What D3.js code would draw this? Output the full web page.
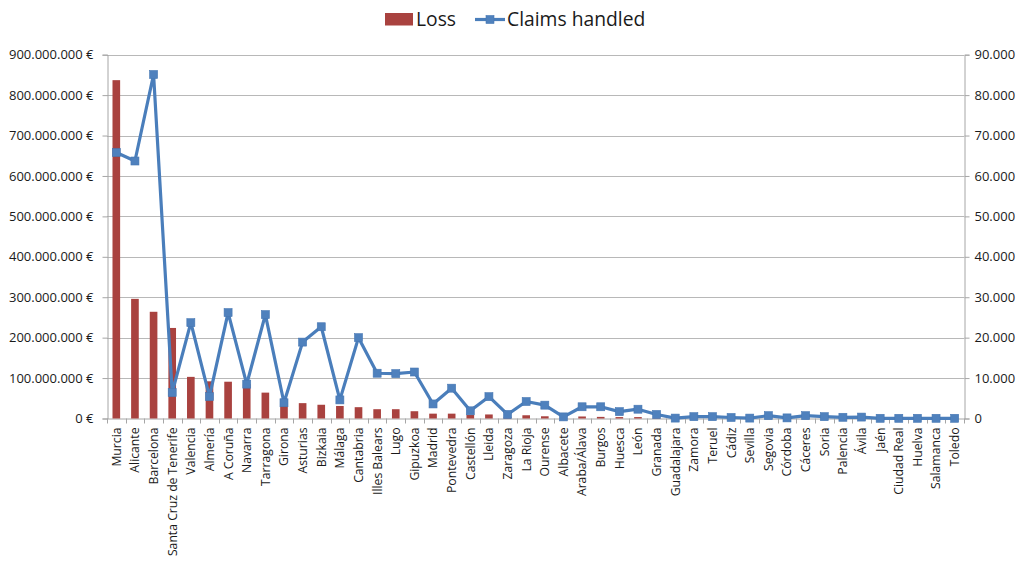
<!DOCTYPE html>
<html>
<head>
<meta charset="utf-8">
<script src="https://cdn.jsdelivr.net/npm/d3@7"></script>
<style>
  html, body { margin: 0; padding: 0; background: #ffffff; }
  svg { display: block; font-family: "Open Sans", "DejaVu Sans", sans-serif; }
</style>
</head>
<body>
<svg id="chart" width="1024" height="561"></svg>
<script>
// Provinces, ordered by total loss
const categories = [
  "Murcia", "Alicante", "Barcelona", "Santa Cruz de Tenerife", "Valencia", "Almería",
  "A Coruña", "Navarra", "Tarragona", "Girona", "Asturias", "Bizkaia", "Málaga",
  "Cantabria", "Illes Balears", "Lugo", "Gipuzkoa", "Madrid", "Pontevedra", "Castellón",
  "Lleida", "Zaragoza", "La Rioja", "Ourense", "Albacete", "Araba/Álava", "Burgos",
  "Huesca", "León", "Granada", "Guadalajara", "Zamora", "Teruel", "Cádiz", "Sevilla",
  "Segovia", "Córdoba", "Cáceres", "Soria", "Palencia", "Ávila", "Jaén", "Ciudad Real",
  "Huelva", "Salamanca", "Toledo"
];

// Loss in euros (left axis)
const lossEUR = [
  837e6, 296e6, 264e6, 224e6, 103e6, 92e6,
  91e6, 85e6, 64e6, 42e6, 38e6, 34e6, 31e6,
  28e6, 23e6, 23e6, 18e6, 12e6, 12e6, 9e6,
  10e6, 4e6, 8e6, 5.5e6, 2e6, 5e6, 4e6,
  3.5e6, 3.5e6, 1.2e6, 0.8e6, 0.6e6, 0.5e6, 0.5e6, 0.4e6,
  0.6e6, 0.3e6, 0.5e6, 0.3e6, 0.3e6, 0.3e6, 0.2e6, 0.2e6,
  0.2e6, 0.1e6, 0.1e6
];

// Number of claims handled (right axis)
const claimsHandled = [
  65800, 63700, 85100, 6400, 23700, 5400,
  26200, 8500, 25700, 3900, 18900, 22700, 4600,
  20000, 11200, 11100, 11500, 3600, 7500, 1900,
  5400, 1000, 4200, 3300, 400, 2900, 2900,
  1700, 2300, 1000, 100, 450, 450, 250, 100,
  700, 150, 700, 450, 300, 350, 50, 50,
  50, 50, 50
];

// Axis ticks and their labels
const leftTicks = [0, 100e6, 200e6, 300e6, 400e6, 500e6, 600e6, 700e6, 800e6, 900e6];
const leftTickLabels = ["0 €", "100.000.000 €", "200.000.000 €", "300.000.000 €", "400.000.000 €",
  "500.000.000 €", "600.000.000 €", "700.000.000 €", "800.000.000 €", "900.000.000 €"];
const rightTicks = [0, 10000, 20000, 30000, 40000, 50000, 60000, 70000, 80000, 90000];
const rightTickLabels = ["0", "10.000", "20.000", "30.000", "40.000", "50.000",
  "60.000", "70.000", "80.000", "90.000"];

const seriesNames = ["Loss", "Claims handled"];

const barColor = "#A9423F";
const lineColor = "#4A7EBB";
const markerColor = "#4F81BD";
const gridColor = "#B8B8B8";
const axisColor = "#A6A6A6";
const textColor = "#1a1a1a";

const plot = { left: 107, right: 964, top: 54.7, bottom: 418.5 };

const svg = d3.select("#chart");

const x = d3.scaleBand().domain(categories).range([plot.left, plot.right]).paddingInner(0).paddingOuter(0);
const yLeft = d3.scaleLinear().domain([0, 900e6]).range([plot.bottom, plot.top]);
const yRight = d3.scaleLinear().domain([0, 90000]).range([plot.bottom, plot.top]);

// Horizontal gridlines
svg.append("g")
  .selectAll("line")
  .data(leftTicks.slice(1))
  .join("line")
  .attr("x1", plot.left).attr("x2", plot.right)
  .attr("y1", d => Math.round(yLeft(d)) + 0.5).attr("y2", d => Math.round(yLeft(d)) + 0.5)
  .attr("stroke", gridColor).attr("stroke-width", 1);

// Left axis
const leftAxis = svg.append("g")
  .attr("transform", `translate(${plot.left + 0.5},0)`)
  .call(d3.axisLeft(yLeft).tickValues(leftTicks).tickSize(5).tickPadding(9)
    .tickFormat((d, i) => leftTickLabels[i]));
leftAxis.select(".domain").attr("stroke", axisColor);
leftAxis.selectAll(".tick line").attr("stroke", axisColor);
leftAxis.selectAll(".tick text").attr("fill", textColor)
  .style("font-size", "13px").style("font-family", "'Open Sans', sans-serif");

// Right axis
const rightAxis = svg.append("g")
  .attr("transform", `translate(${plot.right + 0.5},0)`)
  .call(d3.axisRight(yRight).tickValues(rightTicks).tickSize(5).tickPadding(5)
    .tickFormat((d, i) => rightTickLabels[i]));
rightAxis.select(".domain").attr("stroke", axisColor);
rightAxis.selectAll(".tick line").attr("stroke", axisColor);
rightAxis.selectAll(".tick text").attr("fill", textColor)
  .style("font-size", "13px").style("font-family", "'Open Sans', sans-serif");

// Category axis: baseline, tick marks between categories, rotated labels
const xAxis = svg.append("g")
  .attr("transform", `translate(0,${plot.bottom})`)
  .call(d3.axisBottom(x).tickSize(0).tickPadding(0));
xAxis.select(".domain").attr("stroke", axisColor);
xAxis.selectAll(".tick text")
  .attr("fill", textColor)
  .style("font-size", "12.2px").style("font-family", "'Open Sans', sans-serif")
  .attr("text-anchor", "end")
  .attr("transform", "translate(0,9) rotate(-90)")
  .attr("x", 0).attr("y", 0).attr("dy", "0.36em");

const boundaries = categories.map(c => x(c)).concat([plot.right]);
svg.append("g")
  .selectAll("line")
  .data(boundaries)
  .join("line")
  .attr("x1", d => Math.round(d) + 0.5).attr("x2", d => Math.round(d) + 0.5)
  .attr("y1", plot.bottom).attr("y2", plot.bottom + 5)
  .attr("stroke", axisColor);

// Loss bars
const barW = x.bandwidth() * 0.41;
svg.append("g")
  .selectAll("rect")
  .data(categories)
  .join("rect")
  .attr("x", (d) => x(d) + (x.bandwidth() - barW) / 2)
  .attr("width", barW)
  .attr("y", (d, i) => yLeft(lossEUR[i]))
  .attr("height", (d, i) => plot.bottom - yLeft(lossEUR[i]))
  .attr("fill", barColor);

// Claims line with square markers
const cx = d => x(d) + x.bandwidth() / 2;
const line = d3.line()
  .x((d, i) => cx(categories[i]))
  .y(d => yRight(d));

svg.append("path")
  .datum(claimsHandled)
  .attr("d", line)
  .attr("fill", "none")
  .attr("stroke", lineColor)
  .attr("stroke-width", 3.2)
  .attr("stroke-linejoin", "round");

const m = 8;
svg.append("g")
  .selectAll("rect")
  .data(claimsHandled)
  .join("rect")
  .attr("x", (d, i) => cx(categories[i]) - m / 2)
  .attr("y", d => yRight(d) - m / 2)
  .attr("width", m).attr("height", m)
  .attr("fill", markerColor)
  .attr("stroke", "#4677B3").attr("stroke-width", 0.6);

// Legend
const legend = svg.append("g");
legend.append("rect")
  .attr("x", 385).attr("y", 13).attr("width", 28).attr("height", 12.5)
  .attr("fill", barColor);
legend.append("text")
  .attr("x", 416).attr("y", 26)
  .attr("fill", textColor)
  .style("font-size", "19.3px")
  .text(seriesNames[0]);
legend.append("line")
  .attr("x1", 475).attr("x2", 505).attr("y1", 19.5).attr("y2", 19.5)
  .attr("stroke", lineColor).attr("stroke-width", 3.2);
legend.append("rect")
  .attr("x", 490 - m / 2).attr("y", 19.5 - m / 2).attr("width", m).attr("height", m)
  .attr("fill", markerColor).attr("stroke", "#4677B3").attr("stroke-width", 0.6);
legend.append("text")
  .attr("x", 507).attr("y", 26)
  .attr("fill", textColor)
  .style("font-size", "19.3px")
  .text(seriesNames[1]);
</script>
</body>
</html>
